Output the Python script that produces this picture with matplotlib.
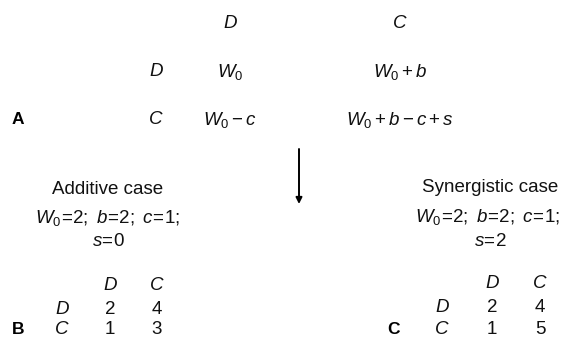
import matplotlib
matplotlib.use("Agg")
import matplotlib.pyplot as plt

plt.rcParams['font.family'] = ['Liberation Sans', 'DejaVu Sans']
plt.rcParams['mathtext.fontset'] = 'custom'
plt.rcParams['mathtext.rm'] = 'Liberation Sans'
plt.rcParams['mathtext.it'] = 'Liberation Sans:italic'
plt.rcParams['mathtext.bf'] = 'Liberation Sans:bold'

# strategies and payoff matrices
strategies = ['D', 'C']
general_payoffs = [[r'$W_0$', r'$W_0 + b$'],
                   [r'$W_0 - c$', r'$W_0 + b - c + s$']]
additive_payoffs = [[2, 4], [1, 3]]
synergistic_payoffs = [[2, 4], [1, 5]]
additive_params = r'$W_0\!=\!2;\ b\!=\!2;\ c\!=\!1;$'
additive_s = r'$s\!=\!0$'
synergistic_params = r'$W_0\!=\!2;\ b\!=\!2;\ c\!=\!1;$'
synergistic_s = r'$s\!=\!2$'

fig = plt.figure(figsize=(5.71, 3.40), dpi=100)
ax = fig.add_axes([0, 0, 1, 1])
ax.set_xlim(0, 571)
ax.set_ylim(340, 0)
ax.axis('off')

fs = 13.5
kw = dict(ha='center', va='center', fontsize=fs, color='#111111')


def matrix(ax, x_row, x_cols, y_head, y_rows, cells, label=None, x_label=None):
    for x, s in zip(x_cols, strategies):
        ax.text(x, y_head, '$' + s + '$', **kw)
    for i, (y, s) in enumerate(zip(y_rows, strategies)):
        ax.text(x_row, y, '$' + s + '$', **kw)
        for j, x in enumerate(x_cols):
            v = cells[i][j]
            ax.text(x, y, str(v), **kw)
    if label:
        ax.text(x_label, y_rows[-1], label, ha='center', va='center',
                fontsize=fs - 1, fontweight='bold')


# A: general matrix
matrix(ax, 156, [230, 400], 23, [72, 120], general_payoffs, 'A', 18)

# arrow
ax.annotate('', xy=(299, 204), xytext=(299, 149),
            arrowprops=dict(arrowstyle='-|>', lw=1.4, color='black',
                            mutation_scale=9, shrinkA=0, shrinkB=0))

# B: additive case
ax.text(108, 190, 'Additive case', **kw)
ax.text(108, 218, additive_params, **kw)
ax.text(109, 242, additive_s, **kw)
matrix(ax, 62, [110, 157], 285, [309, 330], additive_payoffs, 'B', 18)

# C: synergistic case
ax.text(490, 188, 'Synergistic case', **kw)
ax.text(488, 217, synergistic_params, **kw)
ax.text(490, 242, synergistic_s, **kw)
matrix(ax, 442, [492, 540], 284, [308, 330], synergistic_payoffs, 'C', 393)

fig.savefig('out.png', dpi=100)
